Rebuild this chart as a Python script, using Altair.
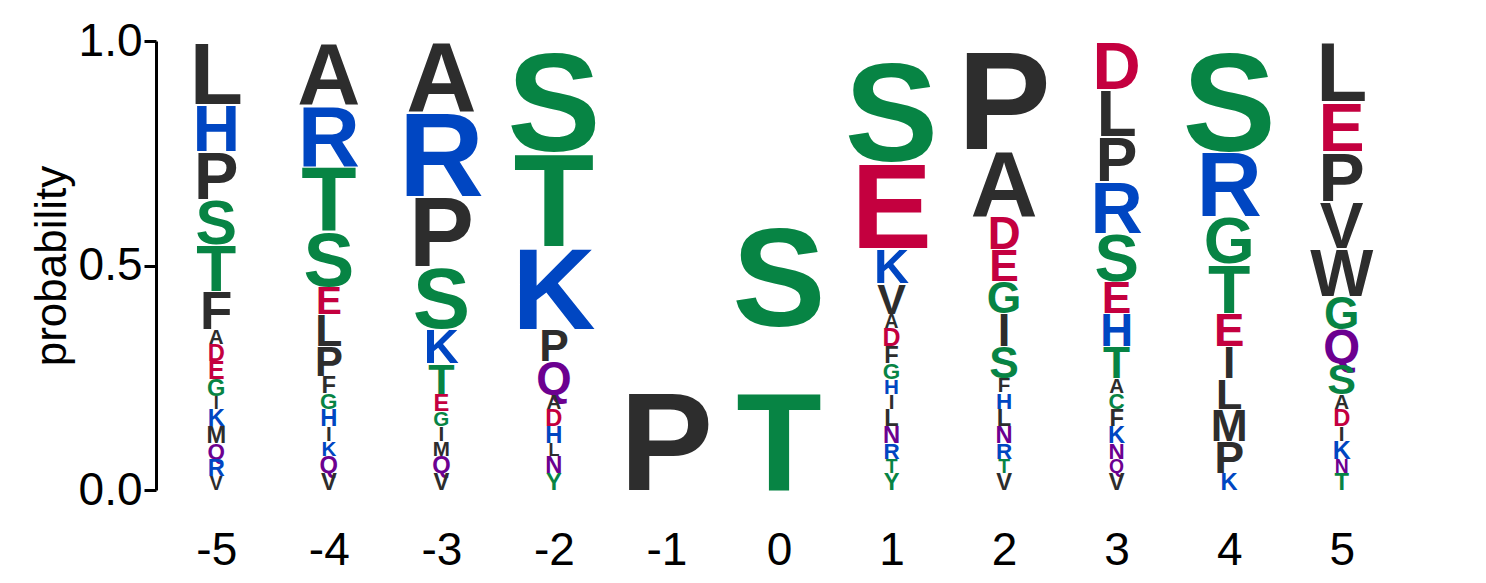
import altair as alt
import pandas as pd

positions = ["-5", "-4", "-3", "-2", "-1", "0", "1", "2", "3", "4", "5"]
# letters listed top to bottom with probabilities
letters = {
    "-5": list("LHPSTFADEGIKMQRV"),
    "-4": list("ARTSELPFGHIKQV"),
    "-3": list("ARPSKTEGIMQV"),
    "-2": list("STKPQADHLNY"),
    "-1": list("P"),
    "0": list("ST"),
    "1": list("SEKVADFGHILNRTY"),
    "2": list("PADEGISFHLNRTV"),
    "3": list("DLPRSEHTACFKNQV"),
    "4": list("SRGTEILMPK"),
    "5": list("LEPVWGQSADIKNT"),
}
probs = {
    "-5": [0.140, 0.105, 0.107, 0.100, 0.105, 0.085, 0.033, 0.038, 0.040, 0.038, 0.029, 0.038, 0.038, 0.036, 0.038, 0.031],
    "-4": [0.140, 0.138, 0.145, 0.122, 0.062, 0.071, 0.067, 0.038, 0.036, 0.038, 0.033, 0.033, 0.038, 0.038],
    "-3": [0.156, 0.189, 0.156, 0.138, 0.078, 0.069, 0.038, 0.033, 0.033, 0.033, 0.038, 0.038],
    "-2": [0.245, 0.212, 0.185, 0.071, 0.073, 0.033, 0.038, 0.038, 0.029, 0.038, 0.038],
    "-1": [1.0],
    "0": [0.635, 0.365],
    "1": [0.267, 0.194, 0.078, 0.069, 0.031, 0.040, 0.038, 0.036, 0.033, 0.033, 0.038, 0.038, 0.036, 0.031, 0.038],
    "2": [0.241, 0.149, 0.073, 0.071, 0.071, 0.073, 0.071, 0.033, 0.036, 0.038, 0.038, 0.036, 0.031, 0.038],
    "3": [0.107, 0.105, 0.100, 0.116, 0.107, 0.071, 0.073, 0.071, 0.033, 0.036, 0.038, 0.038, 0.036, 0.031, 0.038],
    "4": [0.245, 0.145, 0.105, 0.111, 0.073, 0.071, 0.069, 0.071, 0.071, 0.038],
    "5": [0.134, 0.111, 0.111, 0.105, 0.107, 0.073, 0.076, 0.069, 0.033, 0.038, 0.033, 0.040, 0.031, 0.038],
}

colors = {}
for c in "AFILMPVW":
    colors[c] = "#2d2d2d"
for c in "HKR":
    colors[c] = "#0046c2"
for c in "STGYC":
    colors[c] = "#078444"
for c in "DE":
    colors[c] = "#c4003f"
for c in "NQ":
    colors[c] = "#6c0090"

PLOT_H = 449
rows = []
for p in positions:
    ls = letters[p]
    ps = probs[p]
    tot = sum(ps)
    ps = [v / tot for v in ps]
    top = 1.0
    for l, v in zip(ls, ps):
        fs = min(v * PLOT_H / 0.72, 140)
        rows.append({"pos": p, "letter": l, "y0": top - v, "fs": fs, "color": colors[l]})
        top -= v
df = pd.DataFrame(rows)

chart = (
    alt.Chart(df)
    .mark_text(font="Liberation Sans", fontWeight="bold", baseline="alphabetic", align="center")
    .encode(
        x=alt.X("pos:N", sort=positions, scale=alt.Scale(paddingInner=0.06, paddingOuter=0.03),
                axis=alt.Axis(title=None, labelAngle=0, domain=False, ticks=False,
                              labelFontSize=46, labelPadding=38, labelColor="black",
                              labelFont="Liberation Sans")),
        y=alt.Y("y0:Q", scale=alt.Scale(domain=[0, 1], nice=False),
                axis=alt.Axis(title="probability", values=[0, 0.5, 1], format=".1f",
                              labelFontSize=46, titleFontSize=44, titleFontWeight="normal",
                              labelColor="black", titleColor="black", domainColor="black",
                              tickColor="black", domainWidth=3, tickWidth=3, tickSize=12,
                              offset=4, grid=False, labelFont="Liberation Sans",
                              titleFont="Liberation Sans", titlePadding=4)),
        text="letter:N",
        size=alt.Size("fs:Q", scale=None, legend=None),
        color=alt.Color("color:N", scale=None, legend=None),
    )
    .properties(width=1238, height=449, background="white",
                padding={"left": 22, "top": 10, "right": 5, "bottom": 5})
    .configure_view(stroke=None)
)

chart.save("out.html", embed_options={"renderer": "svg", "actions": False})
